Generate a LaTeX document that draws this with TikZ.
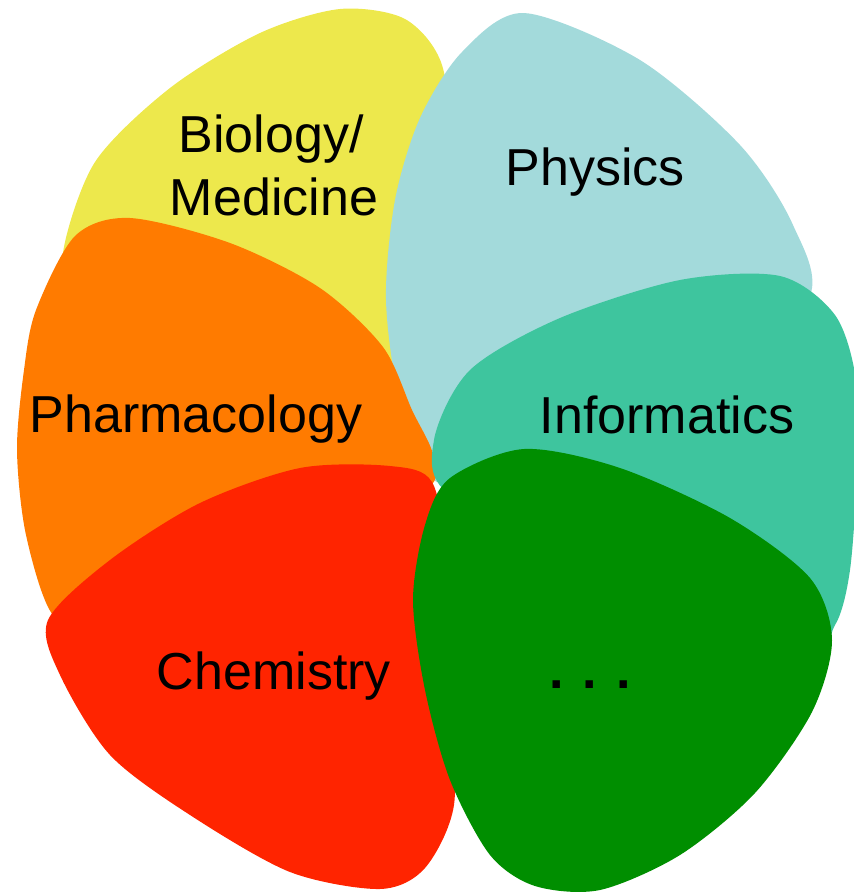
\documentclass[tikz,border=0pt]{standalone}
\usepackage{fontspec}
\setmainfont{Liberation Sans}

\definecolor{biocol}{RGB}{237,232,76}
\definecolor{phycol}{RGB}{163,218,219}
\definecolor{phacol}{RGB}{255,123,0}
\definecolor{infcol}{RGB}{62,197,158}
\definecolor{chemcol}{RGB}{255,36,0}
\definecolor{morecol}{RGB}{0,142,0}

\begin{document}
\begin{tikzpicture}[x=1pt,y=-1pt,
  petal/.style={draw=none,fill=#1},
  field/.style={inner sep=0pt,anchor=base,font=\fontsize{52}{60}\selectfont}]

\useasboundingbox (0,0) rectangle (854,892);

\path[petal=biocol] plot[smooth cycle] coordinates {
  (63,253) (95,162) (170,88) (260,33) (340,9) (405,19)
  (442,65) (450,160) (430,300) (420,420) (300,330) (80,290)};

\path[petal=phycol] plot[smooth cycle] coordinates {
  (437,482) (400,400) (386,300) (395,200) (420,118) (462,52)
  (524,13) (640,60) (740,145) (793,225) (808,300) (700,390) (520,450)};

\path[petal=phacol] plot[smooth cycle] coordinates {
  (36,310) (75,236) (130,218) (230,243) (320,288)
  (383,347) (412,410) (433,455) (425,490) (300,540) (100,620)
  (53,615) (26,535) (17,450) (24,370)};

\path[petal=infcol] plot[smooth cycle] coordinates {
  (434,440) (470,370) (560,318) (680,280) (780,276)
  (835,315) (856,380) (857,470) (850,570) (835,625)
  (800,650) (600,560) (450,495)};

\path[petal=chemcol] plot[smooth cycle] coordinates {
  (48,620) (110,560) (200,503) (300,468) (390,466) (432,482)
  (446,560) (450,700) (454,805) (425,868) (380,889)
  (290,872) (190,815) (110,755) (60,675)};

\path[petal=morecol] plot[smooth cycle] coordinates {
  (450,478) (524,449) (620,468) (730,518) (810,578) (832,640)
  (812,712) (755,793) (680,855) (600,890) (535,886) (490,855)
  (450,780) (425,690) (413,600) (425,525)};

\node[field] (bio)  at (271,152) {Biology/};
\node[field] (med)  at (274,215) {Medicine};
\node[field] (phy)  at (595,185) {Physics};
\node[field] (pha)  at (196,432) {Pharmacology};
\node[field] (inf)  at (667,433) {Informatics};
\node[field] (chem) at (274,689) {Chemistry};
\node[field,font=\fontsize{52}{60}\selectfont\bfseries] (more) at (590,688) {. . .};

\end{tikzpicture}
\end{document}
